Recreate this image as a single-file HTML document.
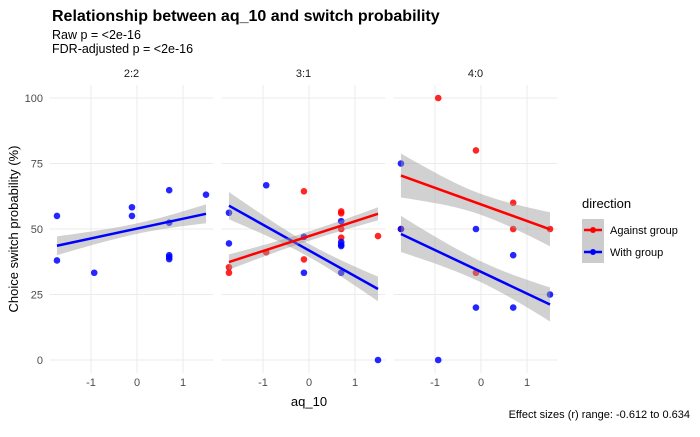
<!DOCTYPE html>
<html><head><meta charset="utf-8"><style>
body{margin:0;background:#fff;font-family:"Liberation Sans",sans-serif;}
</style></head><body>
<svg id="c" width="700" height="432" xmlns="http://www.w3.org/2000/svg" font-family="Liberation Sans, sans-serif">
<text x="52" y="21" font-size="16" font-weight="bold" fill="#000">Relationship between aq_10 and switch probability</text>
<text x="52" y="39" font-size="12.5" fill="#000">Raw p = &lt;2e-16</text>
<text x="52" y="53" font-size="12.5" fill="#000">FDR-adjusted p = &lt;2e-16</text>
<text x="690" y="418" font-size="11" text-anchor="end" fill="#000">Effect sizes (r) range: -0.612 to 0.634</text>
<text x="309" y="406" font-size="13" text-anchor="middle" fill="#000">aq_10</text>
<text transform="translate(18,229) rotate(-90)" font-size="13" text-anchor="middle" fill="#000">Choice switch probability (%)</text>
<g id="panels"></g>
<g>
<text x="582" y="208" font-size="13" fill="#000">direction</text>
<g>
<rect x="582" y="219" width="22" height="22" fill="#cccccc"/><line x1="584" y1="230" x2="602" y2="230" stroke="#f00" stroke-width="2.5"/><circle cx="593" cy="230" r="3" fill="#f00"/>
<text x="610" y="234" font-size="11" fill="#000">Against group</text></g>
<g>
<rect x="582" y="241" width="22" height="22" fill="#cccccc"/><line x1="584" y1="252" x2="602" y2="252" stroke="#00f" stroke-width="2.5"/><circle cx="593" cy="252" r="3" fill="#00f"/>
<text x="610" y="256" font-size="11" fill="#000">With group</text></g>
</g>
</svg>
<script>
const panelNames = ["2:2","3:1","4:0"];
const xTicks = [-1,0,1];
const yTicks = [0,25,50,75,100];
// points: [panel, x, y]
const withPts = [
[0,-1.74,55],[0,-1.74,38],[0,-0.93,33.3],[0,-0.11,58.3],[0,-0.11,55],[0,0.7,64.8],[0,0.7,52.4],[0,0.7,40],[0,0.7,39.3],[0,0.7,38.5],[0,1.5,63.1],
[1,-1.74,56.2],[1,-1.74,44.5],[1,-0.93,66.7],[1,-0.11,47],[1,-0.11,33.3],[1,0.7,53],[1,0.7,45],[1,0.7,44],[1,0.7,43.5],[1,0.7,33.3],[1,1.5,0],
[2,-1.74,75],[2,-1.74,50],[2,-0.93,0],[2,-0.11,50],[2,-0.11,20],[2,0.7,40],[2,0.7,20],[2,1.5,25]];
const againstPts = [
[1,-1.74,35.4],[1,-1.74,33.3],[1,-0.93,41.1],[1,-0.11,64.4],[1,-0.11,38.4],[1,0.7,56.7],[1,0.7,56],[1,0.7,50],[1,0.7,46.7],[1,1.5,47.3],
[2,-1.74,50],[2,-0.93,100],[2,-0.11,80],[2,-0.11,33.3],[2,0.7,60],[2,0.7,50],[2,1.5,50]];
// fits: [panel, yStart, yEnd, ciStart, ciMin, ciEnd]
const withFits = [[0,43.6,55.8,3.6,2,3.6],[1,58.9,27.1,5.2,2.5,4.7],[2,48.1,21.2,6.9,4,6.5]];
const againstFits = [[1,37.4,55.8,2.9,1.8,2.5],[2,70.4,49.9,8.4,4,6.5]];
const xMin=-1.74, xMax=1.5;
const panelX0 = [137,309,481];
const NS="http://www.w3.org/2000/svg";
const g=document.getElementById('panels');
function xs(p,v){return panelX0[p]+v*46;}
function ys(v){return 360-v*2.62;}
function mk(t,a){const e=document.createElementNS(NS,t);for(const k in a)e.setAttribute(k,a[k]);g.appendChild(e);return e;}
panelNames.forEach((n,p)=>{
  const l=xs(p,-1.9), r=xs(p,1.66);
  yTicks.forEach(v=>{const e=mk('line',{x1:l,x2:r,y1:ys(v),y2:ys(v),stroke:'#ebebeb','stroke-width':1});
    
    });
  xTicks.forEach(v=>{const e=mk('line',{x1:xs(p,v),x2:xs(p,v),y1:ys(-5),y2:ys(105),stroke:'#ebebeb','stroke-width':1});
    
    
    const t=mk('text',{x:xs(p,v),y:386,'font-size':11,'text-anchor':'middle',fill:'#4d4d4d'});t.textContent=v;
    
    });
  const s=mk('text',{x:(l+r)/2,y:77,'font-size':11,'text-anchor':'middle',fill:'#1a1a1a'});s.textContent=n;
  
  
});
yTicks.forEach(v=>{const t=mk('text',{x:43,y:ys(v)+4,'font-size':11,'text-anchor':'end',fill:'#4d4d4d'});t.textContent=v;
  
  });
function drawFit(f,col){
  const [p,y0,y1,h0,hm,h1]=f;const N=30;const up=[],dn=[];
  const kL=(h0*h0-hm*hm)/(xMin*xMin), kR=(h1*h1-hm*hm)/(xMax*xMax);
  for(let i=0;i<=N;i++){const x=xMin+(xMax-xMin)*i/N;const y=y0+(y1-y0)*i/N;
    const h=Math.sqrt(hm*hm+(x<0?kL:kR)*x*x);
    up.push(xs(p,x)+','+ys(y+h));dn.unshift(xs(p,x)+','+ys(y-h));}
  const b=mk('polygon',{points:up.concat(dn).join(' '),fill:'#999','fill-opacity':0.45});
  
  
  const ln=mk('line',{x1:xs(p,xMin),y1:ys(y0),x2:xs(p,xMax),y2:ys(y1),stroke:col,'stroke-width':2.5});
  
  
}
function drawPts(arr,col){arr.forEach(d=>{const c=mk('circle',{cx:xs(d[0],d[1]),cy:ys(d[2]),r:3.3,fill:col,'fill-opacity':0.85});
  
  });}
drawPts(againstPts,'#ff0000');
drawPts(withPts,'#0000ff');
withFits.forEach(f=>drawFit(f,'#0000ff'));
againstFits.forEach(f=>drawFit(f,'#ff0000'));
</script>
</body></html>
